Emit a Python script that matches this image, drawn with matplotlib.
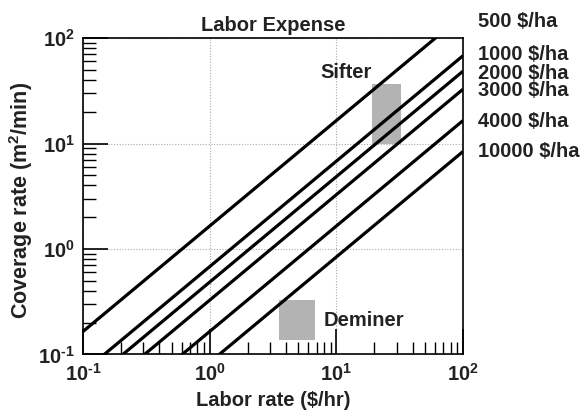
import numpy as np
import matplotlib
matplotlib.use("Agg")
import matplotlib.pyplot as plt
from matplotlib.patches import Rectangle
from matplotlib.ticker import FuncFormatter

plt.rcParams["font.family"] = ["Liberation Sans", "DejaVu Sans"]
plt.rcParams["font.weight"] = "bold"
plt.rcParams["mathtext.fontset"] = "custom"
plt.rcParams["mathtext.rm"] = "Liberation Sans:bold"
plt.rcParams["mathtext.bf"] = "Liberation Sans:bold"
plt.rcParams["mathtext.default"] = "bf"
plt.rcParams["axes.unicode_minus"] = False

# coverage rate (m2/min) at a labor rate of 1 $/hr, one per line
expense_labels = ["500 $/ha", "1000 $/ha", "2000 $/ha", "3000 $/ha", "4000 $/ha", "10000 $/ha"]
coverage_at_1 = [1.65, 0.68, 0.485, 0.327, 0.165, 0.084]
label_y = [142, 70, 46.6, 31.6, 16.1, 8.36]
labor_range = [0.1, 100]

# gray boxes: (name, x0, x1, y0, y1)
sifter = ("Sifter", 19.1, 32.4, 9.9, 36.6)
deminer = ("Deminer", 3.5, 6.8, 0.137, 0.33)

txt = "#222222"
fs = 14.5


def pow10(v, pos):
    e = int(round(np.log10(v)))
    return r"10$^{\text{%d}}$" % e


fig = plt.figure(figsize=(5.86, 4.18), dpi=100)
ax = fig.add_axes([0.1416, 0.152, 0.6485, 0.757])
ax.set_xscale("log")
ax.set_yscale("log")
ax.set_xlim(0.1, 100)
ax.set_ylim(0.1, 100)
ax.xaxis.set_major_formatter(FuncFormatter(pow10))
ax.yaxis.set_major_formatter(FuncFormatter(pow10))

for name, x0, x1, y0, y1 in [sifter, deminer]:
    ax.add_patch(Rectangle((x0, y0), x1 - x0, y1 - y0, facecolor="#b3b3b3",
                           edgecolor="none", zorder=1))

x = np.array(labor_range)
for c in coverage_at_1:
    ax.plot(x, c * x, color="black", lw=2.3, solid_capstyle="butt", zorder=3)

for lab, ly in zip(expense_labels, label_y):
    ax.annotate(lab, xy=(1.039, ly), xycoords=("axes fraction", "data"),
                va="center", ha="left", fontsize=fs, color=txt,
                fontweight="bold", annotation_clip=False)

ax.text(7.55, 47.6, "Sifter", fontsize=fs, fontweight="bold", color=txt,
        ha="left", va="center", zorder=4)
ax.text(7.98, 0.208, "Deminer", fontsize=fs, fontweight="bold", color=txt,
        ha="left", va="center", zorder=4)

ax.grid(True, which="major", linestyle=(0, (1, 1.5)), color="#aaaaaa", lw=0.8)
ax.tick_params(which="both", direction="in", top=False, right=False,
               labelsize=14.5, colors="black", labelcolor=txt, pad=6)
ax.tick_params(which="major", length=18, width=1.2)
ax.tick_params(which="minor", length=9, width=1.0)
for lab in ax.get_xticklabels() + ax.get_yticklabels():
    lab.set_fontweight("bold")
for s in ax.spines.values():
    s.set_linewidth(1.2)

ax.set_title("Labor Expense", fontsize=fs, fontweight="bold", color=txt, pad=5)
ax.set_xlabel("Labor rate ($/hr)", fontsize=fs, fontweight="bold", color=txt)
ax.set_ylabel("Coverage rate (m$^{2}$/min)", fontsize=15.5, fontweight="bold", color=txt)
ax.xaxis.set_label_coords(0.5, -0.115)
ax.yaxis.set_label_coords(-0.127, 0.488)

fig.savefig("out.png", dpi=100)
